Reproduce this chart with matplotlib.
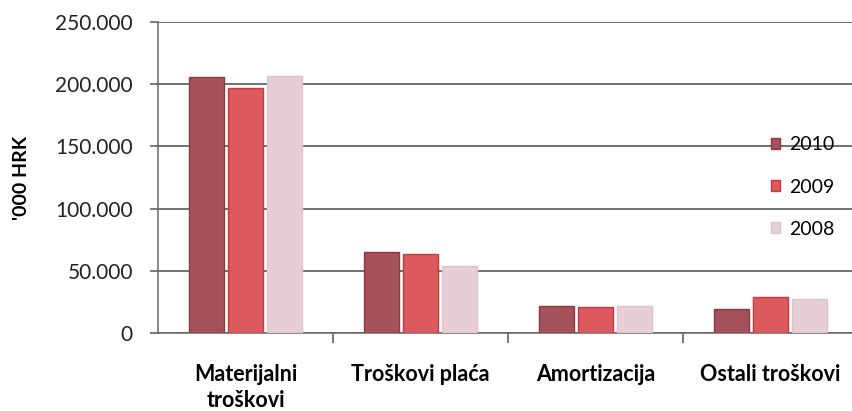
import matplotlib.pyplot as plt
import numpy as np
from matplotlib.ticker import FuncFormatter

plt.rcParams['font.family'] = ['Lato', 'DejaVu Sans']

categories = ["Materijalni\ntroškovi", "Troškovi plaća", "Amortizacija", "Ostali troškovi"]
years = ["2010", "2009", "2008"]
v2010 = [205800, 65400, 22000, 19000]
v2009 = [196800, 63200, 20600, 28700]
v2008 = [206600, 53900, 21500, 27300]
colors = ["#a4525a", "#dc5a5e", "#e7cdd6"]
edges = ["#8a3a3e", "#c9383e", "#ddc2cc"]

fig = plt.figure(figsize=(8.52, 4.11), dpi=100)
ax = fig.add_axes([0.1854, 0.1898, 0.8216, 0.7567])

x = np.arange(len(categories))
w = 0.2
step = 0.223
for i, (vals, c, e, lab) in enumerate(zip([v2010, v2009, v2008], colors, edges, years)):
    ax.bar(x + (i - 1) * step, vals, width=w, color=c, edgecolor=e, linewidth=1.0,
           label=lab, zorder=3)

ax.set_xlim(-0.5, 3.5)
ax.set_ylim(0, 250000)
ax.set_yticks(np.arange(0, 250001, 50000))
ax.yaxis.set_major_formatter(FuncFormatter(lambda v, p: "0" if v == 0 else f"{int(v):,}".replace(",", ".")))
ax.grid(axis="y", color="#4a4a4a", linewidth=1.1, zorder=0)
ax.set_axisbelow(True)

ax.set_xticks(x)
ax.set_xticklabels(categories, fontweight="bold", fontsize=15.5, linespacing=1.3)
ax.set_xticks(np.arange(0.5, 3.5, 1), minor=True)
ax.tick_params(axis="x", which="major", length=0, pad=22)
ax.tick_params(axis="x", which="minor", length=7, color="#555555", width=1.1)
ax.tick_params(axis="y", length=6, color="#555555", width=1.1, labelsize=15, pad=12,
               labelcolor="#222222")

for s in ["top", "right"]:
    ax.spines[s].set_visible(False)
ax.spines["left"].set_color("#666666")
ax.spines["bottom"].set_color("#666666")
ax.spines["left"].set_linewidth(1.1)
ax.spines["bottom"].set_linewidth(1.1)

ax.set_ylabel("'000 HRK", fontweight="bold", fontsize=14, labelpad=18)

fig.legend(loc="center left", bbox_to_anchor=(0.884, 0.545), frameon=False,
           fontsize=14, handlelength=0.5, handleheight=0.5, handletextpad=0.45,
           labelspacing=1.3)

fig.savefig("out.png", dpi=100)
